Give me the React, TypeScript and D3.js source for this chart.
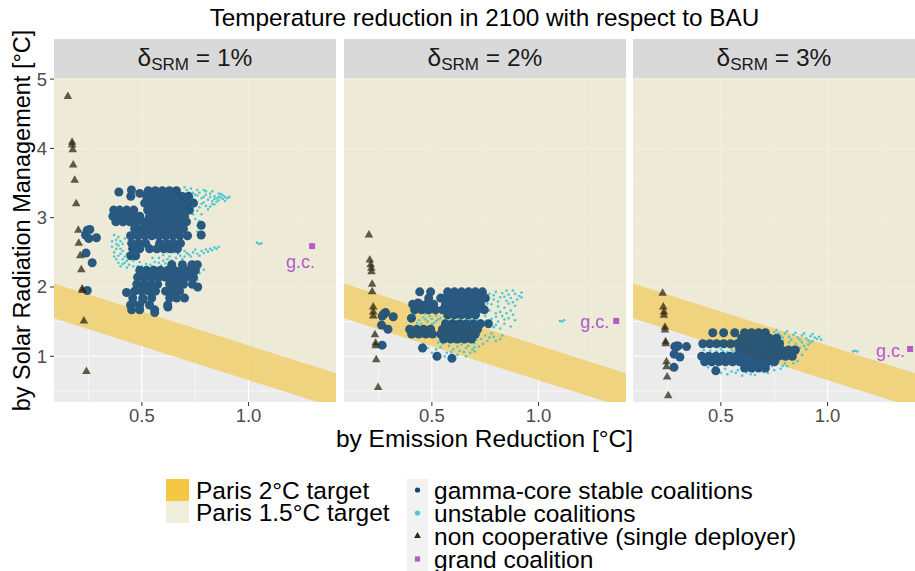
import React from "react";
import * as d3 from "d3";

type Pt = [number, number];
type Row = [number, number[]];

const FONT = "'Liberation Sans', Arial, Helvetica, sans-serif";

// ---------- data ----------
const panelLabels = ["1%", "2%", "3%"];
const xTicks = [0.5, 1.0];
const xMinor = [0.25, 0.75, 1.25];
const yTicks = [1, 2, 3, 4, 5];
const yMinor = [0.5, 1.5, 2.5, 3.5, 4.5];

// Paris target lines: y = intercept + slope * x
const paris2Upper = 2.136;
const paris2Lower = 1.636;
const parisSlope = -0.98;

// non cooperative (single deployer) outcomes
const nonCoop1: Pt[] = [
  [0.153, 4.75], [0.173, 4.09], [0.173, 4.05], [0.176, 3.98], [0.178, 3.76], [0.185, 3.54],
  [0.192, 3.2], [0.202, 2.82], [0.204, 2.63], [0.211, 2.45], [0.216, 2.25], [0.22, 1.97],
  [0.222, 1.95], [0.228, 1.51], [0.24, 0.78],
];
const nonCoop2: Pt[] = [
  [0.205, 2.75], [0.209, 2.39], [0.213, 2.32], [0.216, 2.27], [0.217, 2.22], [0.22, 2.04],
  [0.22, 1.93], [0.225, 1.71], [0.225, 1.64], [0.225, 1.58], [0.233, 1.31], [0.236, 1.19],
  [0.236, 1.15], [0.239, 0.95], [0.248, 0.55],
];
const nonCoop3: Pt[] = [
  [0.227, 1.91], [0.23, 1.71], [0.233, 1.64], [0.233, 1.59], [0.238, 1.42], [0.238, 1.38],
  [0.241, 1.21], [0.241, 1.18], [0.245, 0.92], [0.245, 0.85], [0.248, 0.7], [0.253, 0.43],
];

// gamma-core stable coalitions, grouped by SRM level: [y, x values]
const stable1Rows: Row[] = [
  [3.39, [0.53, 0.563, 0.596, 0.629, 0.662]],
  [3.37, [0.392]], [3.4, [0.451]], [3.35, [0.49]],
  [3.31, [0.448, 0.522, 0.555, 0.588, 0.621, 0.653, 0.686, 0.719]],
  [3.21, [0.513, 0.546, 0.579, 0.611, 0.644, 0.677, 0.709, 0.742]],
  [3.11, [0.368, 0.396, 0.429, 0.462, 0.527, 0.56, 0.593, 0.625, 0.658, 0.69, 0.723]],
  [3.02, [0.364, 0.392, 0.424, 0.457, 0.49, 0.536, 0.569, 0.602, 0.635, 0.667, 0.7]],
  [2.94, [0.378, 0.411, 0.443, 0.476, 0.513, 0.546, 0.579, 0.611, 0.644, 0.677, 0.709]],
  [2.89, [0.778]],
  [2.84, [0.466, 0.499, 0.532, 0.564, 0.597, 0.63, 0.663, 0.695]],
  [2.75, [0.778]],
  [2.74, [0.447, 0.48, 0.513, 0.546, 0.579, 0.611, 0.644, 0.677, 0.714]],
  [2.63, [0.452, 0.485, 0.518, 0.583, 0.616, 0.649, 0.681]],
  [2.55, [0.457, 0.49, 0.536, 0.57, 0.602, 0.635, 0.667]],
  [2.45, [0.448, 0.471]],
  [2.32, [0.64, 0.69, 0.735, 0.76]],
  [2.24, [0.49, 0.522, 0.555, 0.588, 0.621, 0.653, 0.686, 0.719, 0.751]],
  [2.14, [0.48, 0.513, 0.546, 0.579, 0.611, 0.644, 0.677, 0.709, 0.742]],
  [2.04, [0.476, 0.508, 0.541, 0.574, 0.63, 0.663, 0.695, 0.737]],
  [2.0, [0.762]],
  [1.94, [0.466, 0.499, 0.532, 0.564, 0.611, 0.644, 0.677]],
  [1.92, [0.428]],
  [1.84, [0.457, 0.504, 0.546, 0.63, 0.663, 0.7]],
  [1.82, [0.505]],
  [1.76, [0.459]],
  [1.74, [0.447, 0.49, 0.536, 0.621]],
  [1.71, [0.622]],
  [1.67, [0.452, 0.49, 0.56]],
  [1.63, [0.56]],
  [2.83, [0.256]], [2.82, [0.244]], [2.75, [0.236]], [2.7, [0.251]], [2.71, [0.287]],
  [2.49, [0.238]], [2.35, [0.267]], [1.95, [0.244]],
];
const stable2Rows: Row[] = [
  [1.93, [0.443, 0.494, 0.574, 0.606, 0.639, 0.672, 0.704, 0.737]],
  [1.84, [0.485, 0.541, 0.564, 0.597, 0.63, 0.662, 0.695, 0.728, 0.751]],
  [1.77, [0.435]],
  [1.75, [0.41, 0.443, 0.475, 0.508, 0.564, 0.597, 0.63, 0.662, 0.695, 0.728]],
  [1.67, [0.419, 0.452, 0.485, 0.517, 0.55, 0.583, 0.615, 0.648, 0.681, 0.714, 0.746]],
  [1.6, [0.574, 0.606, 0.639, 0.672, 0.704]],
  [1.55, [0.404]],
  [1.47, [0.564, 0.597, 0.63, 0.662, 0.695, 0.728, 0.765]],
  [1.39, [0.396, 0.429, 0.461, 0.494, 0.55, 0.583, 0.615, 0.648, 0.681, 0.714]],
  [1.32, [0.405, 0.438, 0.471, 0.503, 0.541, 0.574, 0.606, 0.639, 0.672, 0.704]],
  [1.25, [0.555, 0.588, 0.62, 0.653, 0.686]],
  [1.12, [0.456]], [1.0, [0.524]], [0.97, [0.594]],
  [1.62, [0.278]], [1.6, [0.272]], [1.63, [0.283]], [1.58, [0.267]], [1.57, [0.319]],
  [1.45, [0.264]], [1.39, [0.294]], [1.16, [0.267]],
];
const stable3Rows: Row[] = [
  [1.34, [0.462, 0.513, 0.565, 0.611, 0.644, 0.677, 0.709]],
  [1.26, [0.597, 0.63, 0.663, 0.695, 0.728, 0.761]],
  [1.18, [0.415, 0.448, 0.48, 0.513, 0.545, 0.578, 0.611, 0.644, 0.677, 0.709, 0.742, 0.775]],
  [1.09, [0.588, 0.621, 0.653, 0.686, 0.719, 0.751, 0.784, 0.817, 0.849]],
  [1.0, [0.41, 0.443, 0.476, 0.508, 0.541, 0.574, 0.607, 0.639, 0.672, 0.705, 0.737, 0.77, 0.803, 0.835]],
  [0.92, [0.424, 0.457, 0.49, 0.522, 0.555, 0.588, 0.621, 0.653, 0.686, 0.719, 0.751]],
  [0.83, [0.611, 0.644, 0.677, 0.709]],
  [0.79, [0.476]],
  [1.14, [0.284, 0.339]], [1.15, [0.292, 0.3]], [1.13, [0.29]], [1.03, [0.281]],
  [0.99, [0.308]], [0.84, [0.28]],
];

// unstable coalitions
const unstable1: Pt[] = [
  [0.66, 3.42], [0.67, 3.36], [0.68, 3.32], [0.69, 3.28], [0.7, 3.35], [0.7, 3.24], [0.71, 3.4],
  [0.71, 3.15], [0.72, 3.3], [0.72, 3.36], [0.73, 3.2], [0.73, 3.12], [0.74, 3.36], [0.74, 3.28],
  [0.74, 3.05], [0.75, 3.25], [0.75, 3.33], [0.75, 2.98], [0.76, 3.32], [0.76, 3.4], [0.76, 3.1],
  [0.77, 3.15], [0.77, 3.36], [0.78, 3.28], [0.78, 3.2], [0.78, 3.05], [0.79, 3.22], [0.79, 3.3],
  [0.8, 3.33], [0.8, 3.38], [0.8, 3.17], [0.81, 3.12], [0.81, 3.26], [0.82, 3.3], [0.82, 3.35],
  [0.83, 3.2], [0.83, 3.24], [0.84, 3.27], [0.84, 3.31], [0.85, 3.23], [0.85, 3.28], [0.86, 3.3],
  [0.86, 3.25], [0.87, 3.34], [0.87, 3.29], [0.88, 3.27], [0.88, 3.32], [0.89, 3.3], [0.9, 3.28],
  [0.82, 3.16], [0.84, 3.19], [0.86, 3.35], [0.89, 3.24], [0.91, 3.3], [0.7, 3.44], [0.73, 3.42],
  [0.79, 3.4], [0.83, 3.38],
  [0.77, 2.95], [0.79, 2.85], [0.76, 2.8], [0.77, 2.2], [0.79, 2.25], [0.76, 2.1],
  [0.36, 2.58], [0.37, 2.75], [0.37, 2.5], [0.38, 2.62], [0.38, 2.68], [0.39, 2.45], [0.39, 2.35],
  [0.4, 2.55], [0.4, 2.3], [0.41, 2.4], [0.41, 2.62], [0.42, 2.35], [0.43, 2.48], [0.43, 2.28],
  [0.44, 2.42], [0.45, 2.55], [0.46, 2.38],
  [0.37, 2.44], [0.38, 2.55], [0.39, 2.72], [0.4, 2.48], [0.4, 2.66], [0.41, 2.52], [0.42, 2.44],
  [0.42, 2.7], [0.43, 2.38], [0.44, 2.55], [0.44, 2.32], [0.45, 2.45], [0.46, 2.3], [0.47, 2.42],
  [0.38, 2.4], [0.36, 2.66], [0.41, 2.33], [0.39, 2.6],
  [0.48, 2.3], [0.5, 2.3], [0.52, 2.33], [0.53, 2.26], [0.54, 2.32], [0.55, 2.42], [0.56, 2.36],
  [0.57, 2.28], [0.58, 2.35], [0.6, 2.38], [0.6, 2.46], [0.62, 2.4], [0.64, 2.38], [0.65, 2.5],
  [0.66, 2.42], [0.68, 2.45], [0.7, 2.44], [0.7, 2.52], [0.72, 2.47], [0.74, 2.5], [0.76, 2.48],
  [0.78, 2.52], [0.8, 2.54], [0.82, 2.55], [0.84, 2.57],
  [0.49, 2.36], [0.51, 2.27], [0.55, 2.3], [0.59, 2.31], [0.61, 2.34], [0.63, 2.44], [0.67, 2.48],
  [0.69, 2.4], [0.71, 2.49], [0.73, 2.44], [0.75, 2.54], [0.77, 2.45], [0.79, 2.49], [0.81, 2.51],
  [0.83, 2.53], [0.85, 2.55], [0.86, 2.58], [0.62, 2.5], [0.58, 2.42],
  [1.04, 2.64], [1.05, 2.62], [1.06, 2.63],
];
const unstable2: Pt[] = [
  [0.74, 1.92], [0.77, 1.9], [0.8, 1.93], [0.83, 1.91], [0.86, 1.89], [0.89, 1.9], [0.91, 1.87],
  [0.76, 1.84], [0.79, 1.82], [0.82, 1.85], [0.85, 1.8], [0.88, 1.78], [0.78, 1.75], [0.81, 1.72],
  [0.84, 1.7], [0.87, 1.66], [0.77, 1.66], [0.8, 1.62], [0.83, 1.58], [0.86, 1.55], [0.89, 1.52],
  [0.75, 1.58], [0.78, 1.54], [0.81, 1.5], [0.84, 1.47], [0.87, 1.43], [0.79, 1.42], [0.82, 1.4],
  [0.76, 1.46], [0.73, 1.52], [0.7, 1.55], [0.92, 1.85], [0.88, 1.95],
  [0.74, 1.7], [0.76, 1.76], [0.79, 1.88], [0.81, 1.79], [0.84, 1.86], [0.86, 1.76], [0.87, 1.84],
  [0.89, 1.73], [0.9, 1.82], [0.85, 1.62], [0.82, 1.64], [0.8, 1.57], [0.88, 1.6], [0.84, 1.53],
  [0.77, 1.5], [0.8, 1.45], [0.72, 1.58], [0.92, 1.92], [0.85, 1.95],
  [0.4, 1.5], [0.42, 1.55], [0.44, 1.52], [0.46, 1.56], [0.48, 1.5], [0.5, 1.54], [0.52, 1.51],
  [0.54, 1.55], [0.56, 1.52], [0.58, 1.55], [0.6, 1.53], [0.62, 1.56], [0.64, 1.52], [0.66, 1.55],
  [0.68, 1.53], [0.45, 1.47], [0.5, 1.46], [0.55, 1.48], [0.42, 1.6], [0.47, 1.61], [0.52, 1.59],
  [0.41, 1.53], [0.43, 1.48], [0.47, 1.53], [0.49, 1.58], [0.51, 1.48], [0.53, 1.53], [0.57, 1.58],
  [0.59, 1.5], [0.61, 1.49], [0.63, 1.58], [0.65, 1.5], [0.67, 1.58], [0.69, 1.5], [0.71, 1.54],
  [0.55, 1.18], [0.58, 1.15], [0.61, 1.2], [0.64, 1.17], [0.67, 1.22], [0.7, 1.19], [0.73, 1.25],
  [0.76, 1.22], [0.79, 1.28], [0.82, 1.25], [0.6, 1.1], [0.63, 1.08], [0.66, 1.12], [0.69, 1.1],
  [0.72, 1.14], [0.57, 1.05], [0.52, 1.1], [0.5, 1.05], [0.75, 1.3], [0.78, 1.33], [0.62, 1.02],
  [0.68, 1.05], [0.48, 1.12], [0.53, 1.2],
  [0.54, 1.13], [0.56, 1.22], [0.59, 1.06], [0.62, 1.14], [0.65, 1.06], [0.67, 1.15], [0.7, 1.13],
  [0.71, 1.24], [0.74, 1.18], [0.77, 1.27], [0.8, 1.22], [0.83, 1.3], [0.46, 1.18], [0.51, 1.0],
  [0.56, 1.0], [0.6, 0.98], [0.66, 1.0], [0.7, 1.07],
  [1.1, 1.51], [1.11, 1.5], [1.12, 1.52],
];
const unstable3: Pt[] = [
  [0.72, 1.32], [0.75, 1.35], [0.78, 1.3], [0.8, 1.33], [0.82, 1.28], [0.84, 1.31], [0.86, 1.27],
  [0.88, 1.3], [0.9, 1.26], [0.92, 1.29], [0.94, 1.27], [0.79, 1.22], [0.82, 1.2], [0.85, 1.18],
  [0.88, 1.2], [0.91, 1.17], [0.87, 1.12], [0.9, 1.1], [0.85, 1.05], [0.88, 1.02], [0.83, 0.96],
  [0.86, 0.93], [0.8, 0.9], [0.77, 0.92], [0.74, 0.86], [0.71, 0.82], [0.68, 0.8], [0.65, 0.78],
  [0.62, 0.77], [0.58, 0.8], [0.55, 0.78], [0.52, 0.82], [0.5, 0.76], [0.47, 0.84], [0.6, 0.72],
  [0.66, 0.73], [0.72, 0.76], [0.78, 0.82], [0.81, 0.86], [0.45, 1.08], [0.5, 1.1], [0.55, 1.09],
  [0.48, 1.07], [0.53, 1.06], [0.57, 1.12], [0.93, 1.22], [0.95, 1.25], [0.76, 1.38], [0.7, 1.38],
  [0.73, 1.28], [0.77, 1.33], [0.79, 1.27], [0.81, 1.36], [0.83, 1.24], [0.85, 1.34], [0.87, 1.24],
  [0.89, 1.33], [0.91, 1.23], [0.93, 1.32], [0.84, 1.14], [0.86, 1.09], [0.89, 1.15], [0.92, 1.2],
  [0.82, 1.0], [0.84, 0.9], [0.79, 0.86], [0.75, 0.8], [0.7, 0.77], [0.64, 0.74], [0.57, 0.76],
  [0.53, 0.74], [0.49, 0.8], [0.46, 0.88], [0.44, 0.84], [0.42, 1.09], [0.51, 1.07], [0.56, 1.06],
  [0.6, 1.13], [0.96, 1.28], [0.97, 1.24],
  [1.12, 1.07], [1.13, 1.08], [1.14, 1.07],
];

// grand coalition outcome per panel
const grand: Pt[] = [[1.298, 2.59], [1.364, 1.51], [1.387, 1.105]];
const grandLabelOffset: Pt[] = [[3, 22], [-7, 7], [-5, 8]];

const legendFill = ["Paris 2°C target", "Paris 1.5°C target"];
const legendPoints = [
  "gamma-core stable coalitions",
  "unstable coalitions",
  "non cooperative (single deployer)",
  "grand coalition",
];

// ---------- layout & style ----------
const W = 915;
const H = 571;
const PANEL_LEFT = [54, 344, 633];
const PANEL_W = 282;
const PANEL_TOP = 78;
const PANEL_BOTTOM = 402;
const STRIP_TOP = 39;

const COL = {
  panelBg: "#EBEBEB",
  beige: "#EEEBD2",
  band: "#F0CC60",
  legendYellow: "#F4C843",
  legendBeige: "#EEEEDA",
  strip: "#D9D9D9",
  stable: "#0E4674",
  unstable: "#4CC8D2",
  nonCoop: "#2D260F",
  grand: "#B25CC8",
  tickText: "#4D4D4D",
  tick: "#333333",
};

const flatten = (rows: Row[]): Pt[] => rows.flatMap(([y, xs]) => xs.map((x) => [x, y] as Pt));

const panelData = [
  { stable: flatten(stable1Rows), unstable: unstable1, nonCoop: nonCoop1 },
  { stable: flatten(stable2Rows), unstable: unstable2, nonCoop: nonCoop2 },
  { stable: flatten(stable3Rows), unstable: unstable3, nonCoop: nonCoop3 },
];

const yScale = d3.scaleLinear().domain([0.34, 5.016]).range([PANEL_BOTTOM, PANEL_TOP]);
const triangle = d3.symbol().type(d3.symbolTriangle).size(32)();
const triangleSmall = d3.symbol().type(d3.symbolTriangle).size(20)();

function Panel({ i }: { i: number }) {
  const left = PANEL_LEFT[i];
  const x = d3.scaleLinear().domain([0.088, 1.41]).range([left, left + PANEL_W]);
  const [x0, x1] = x.domain();
  const [, y1] = yScale.domain();
  const upper = (v: number) => paris2Upper + parisSlope * v;
  const lower = (v: number) => paris2Lower + parisSlope * v;
  const line = d3.line<Pt>().x((d) => x(d[0])).y((d) => yScale(d[1]));
  const beigePoly: Pt[] = [[x0, upper(x0)], [x1, upper(x1)], [x1, y1 + 1], [x0, y1 + 1]];
  const bandPoly: Pt[] = [[x0, upper(x0)], [x1, upper(x1)], [x1, lower(x1)], [x0, lower(x0)]];
  const d = panelData[i];
  const g = grand[i];
  const clipId = `clip-panel-${i}`;
  return (
    <g>
      <defs>
        <clipPath id={clipId}>
          <rect x={left} y={PANEL_TOP} width={PANEL_W} height={PANEL_BOTTOM - PANEL_TOP} />
        </clipPath>
      </defs>
      {/* strip */}
      <rect x={left} y={STRIP_TOP} width={PANEL_W} height={PANEL_TOP - STRIP_TOP} fill={COL.strip} />
      <text x={left + PANEL_W / 2} y={65.5} textAnchor="middle" fontSize={24.5} fill="#1A1A1A" fontFamily={FONT}>
        δ<tspan dy={4.5} fontSize={17}>SRM</tspan>
        <tspan dy={-4.5}>{` = ${panelLabels[i]}`}</tspan>
      </text>
      {/* panel background and grid */}
      <rect x={left} y={PANEL_TOP} width={PANEL_W} height={PANEL_BOTTOM - PANEL_TOP} fill={COL.panelBg} />
      <g stroke="#FFFFFF">
        {xMinor.map((t) => (
          <line key={`xm${t}`} x1={x(t)} x2={x(t)} y1={PANEL_TOP} y2={PANEL_BOTTOM} strokeWidth={0.6} />
        ))}
        {yMinor.map((t) => (
          <line key={`ym${t}`} x1={left} x2={left + PANEL_W} y1={yScale(t)} y2={yScale(t)} strokeWidth={0.6} />
        ))}
        {xTicks.map((t) => (
          <line key={`xM${t}`} x1={x(t)} x2={x(t)} y1={PANEL_TOP} y2={PANEL_BOTTOM} strokeWidth={1.2} />
        ))}
        {yTicks.map((t) => (
          <line key={`yM${t}`} x1={left} x2={left + PANEL_W} y1={yScale(t)} y2={yScale(t)} strokeWidth={1.2} />
        ))}
      </g>
      <g clipPath={`url(#${clipId})`}>
        <path d={line(beigePoly) + "Z"} fill={COL.beige} fillOpacity={0.75} />
        <path d={line(bandPoly) + "Z"} fill={COL.band} fillOpacity={0.78} />
        {d.unstable.map((p, k) => (
          <circle key={`u${k}`} cx={x(p[0])} cy={yScale(p[1])} r={1.3} fill={COL.unstable} />
        ))}
        <g opacity={0.88}>
          {d.stable.map((p, k) => (
            <circle key={`s${k}`} cx={x(p[0])} cy={yScale(p[1])} r={4.5} fill={COL.stable} />
          ))}
        </g>
        {d.nonCoop.map((p, k) => (
          <path
            key={`n${k}`}
            d={triangle!}
            transform={`translate(${x(p[0])},${yScale(p[1])})`}
            fill={COL.nonCoop}
            fillOpacity={0.74}
          />
        ))}
        <rect x={x(g[0]) - 3} y={yScale(g[1]) - 3} width={6} height={6} fill={COL.grand} />
        <text
          x={x(g[0]) + grandLabelOffset[i][0]}
          y={yScale(g[1]) + grandLabelOffset[i][1]}
          textAnchor="end"
          fontSize={18}
          fill={COL.grand}
          fontFamily={FONT}
        >
          g.c.
        </text>
      </g>
      {/* x axis */}
      {xTicks.map((t) => (
        <g key={`xt${t}`}>
          <line x1={x(t)} x2={x(t)} y1={PANEL_BOTTOM} y2={PANEL_BOTTOM + 4} stroke={COL.tick} strokeWidth={1} />
          <text x={x(t)} y={421.5} textAnchor="middle" fontSize={18.5} fill={COL.tickText} fontFamily={FONT}>
            {d3.format(".1f")(t)}
          </text>
        </g>
      ))}
      {/* y axis on first panel */}
      {i === 0 &&
        yTicks.map((t) => (
          <g key={`yt${t}`}>
            <line x1={left - 4} x2={left} y1={yScale(t)} y2={yScale(t)} stroke={COL.tick} strokeWidth={1} />
            <text x={left - 7} y={yScale(t) + 6.5} textAnchor="end" fontSize={18.5} fill={COL.tickText} fontFamily={FONT}>
              {t}
            </text>
          </g>
        ))}
    </g>
  );
}

function Legend() {
  const fillCols = [COL.legendYellow, COL.legendBeige];
  const rowsY = [490, 513, 536, 559];
  const keyX = 417.5;
  return (
    <g fontFamily={FONT} fontSize={24.5} fill="#000">
      {legendFill.map((lab, k) => (
        <g key={lab}>
          <rect x={166} y={479 + k * 22} width={23} height={22} fill={fillCols[k]} />
          <text x={196} y={490 + k * 22.5 + 8.5}>{lab}</text>
        </g>
      ))}
      <rect x={407} y={479} width={21} height={H - 479} fill="#F2F2F2" />
      <circle cx={keyX} cy={rowsY[0]} r={2.6} fill={COL.stable} />
      <circle cx={keyX} cy={rowsY[1]} r={2.6} fill={COL.unstable} />
      <path d={triangleSmall!} transform={`translate(${keyX},${rowsY[2]})`} fill={COL.nonCoop} />
      <rect x={keyX - 2.6} y={rowsY[3] - 2.6} width={5.2} height={5.2} fill={COL.grand} />
      {legendPoints.map((lab, k) => (
        <text key={lab} x={434} y={rowsY[k] + 8.5}>
          {lab}
        </text>
      ))}
    </g>
  );
}

export default function App() {
  return (
    <svg
      width={W}
      height={H}
      viewBox={`0 0 ${W} ${H}`}
      style={{ position: "absolute", left: 0, top: 0, display: "block", background: "#FFFFFF" }}
    >
      <rect x={0} y={0} width={W} height={H} fill="#FFFFFF" />
      <text x={484.5} y={25.5} textAnchor="middle" fontSize={24.3} fill="#000" fontFamily={FONT}>
        Temperature reduction in 2100 with respect to BAU
      </text>
      {[0, 1, 2].map((i) => (
        <Panel key={i} i={i} />
      ))}
      <text x={484.5} y={447} textAnchor="middle" fontSize={24.5} fill="#000" fontFamily={FONT}>
        by Emission Reduction [°C]
      </text>
      <text
        transform={`translate(29.5,${(STRIP_TOP + PANEL_BOTTOM) / 2}) rotate(-90)`}
        textAnchor="middle"
        fontSize={23.5}
        fill="#000"
        fontFamily={FONT}
      >
        by Solar Radiation Management [°C]
      </text>
      <Legend />
    </svg>
  );
}
